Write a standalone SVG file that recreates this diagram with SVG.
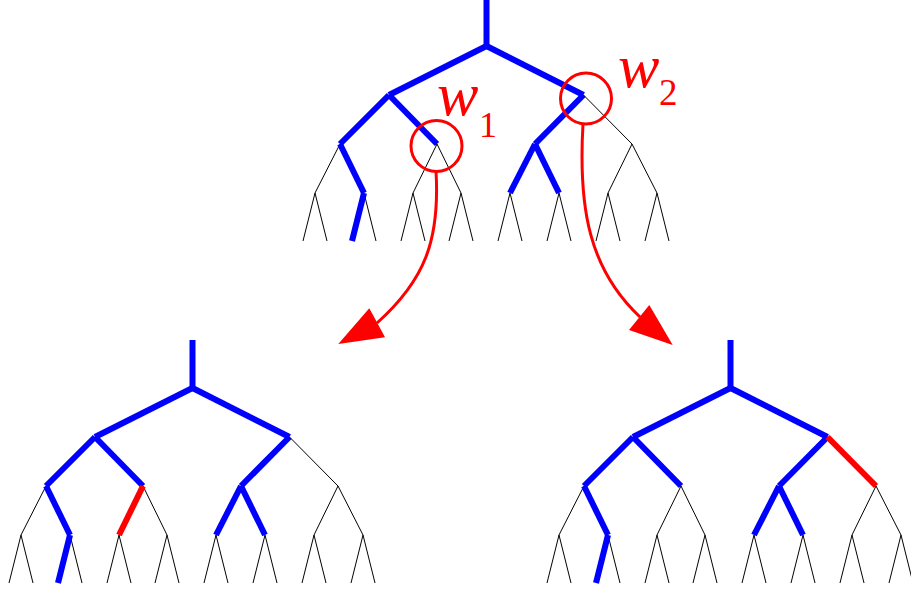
<svg xmlns="http://www.w3.org/2000/svg" xmlns:xlink="http://www.w3.org/1999/xlink" width="911" height="592" viewBox="0 0 911 592">
<style>
.thin{stroke:#000;stroke-width:1;fill:none}
.blue{stroke:#0000ff;stroke-width:6;fill:none;stroke-linecap:butt}
.redt{stroke:#ff0000;stroke-width:6;fill:none;stroke-linecap:butt}
.ring{stroke:#ff0000;stroke-width:3;fill:none}
.arc{stroke:#ff0000;stroke-width:3;fill:none}
.head{fill:#ff0000;stroke:none}
.lbl{fill:#ff0000}
</style>
<defs>
<g id="base">
<g class="thin">
<line x1="340" y1="144" x2="315" y2="193"/>
<line x1="437" y1="144" x2="461" y2="193"/>
<line x1="632" y1="144" x2="608" y2="193"/>
<line x1="632" y1="144" x2="657" y2="193"/>
<path d="M303,241 L315,193 L327,241 M376,241 L364,193 M401,241 L413,193 L425,241 M449,241 L461,193 L473,241 M498,241 L510,193 L522,241 M547,241 L559,193 L571,241 M596,241 L608,193 L620,241 M645,241 L657,193 L669,241"/>
</g>
<g class="blue">
<line x1="486.5" y1="-2" x2="486.5" y2="46"/>
<line x1="486.5" y1="46" x2="389" y2="95"/>
<line x1="486.5" y1="46" x2="583.5" y2="95"/>
<line x1="389" y1="95" x2="340" y2="144"/>
<line x1="389" y1="95" x2="437" y2="144"/>
<line x1="340" y1="144" x2="364" y2="193"/>
<line x1="364" y1="193" x2="352" y2="241"/>
<line x1="583.5" y1="95" x2="535" y2="144"/>
<line x1="535" y1="144" x2="510" y2="193"/>
<line x1="535" y1="144" x2="559" y2="193"/>
</g>
</g>
</defs>
<g id="tree-top">
<use xlink:href="#base"/>
<line class="thin" x1="583.5" y1="95" x2="632" y2="144"/>
<line class="thin" x1="437" y1="144" x2="413" y2="193"/>
</g>
<g id="tree-left" transform="translate(-294,342)">
<use xlink:href="#base"/>
<line class="thin" x1="583.5" y1="95" x2="632" y2="144"/>
<line class="redt" x1="437" y1="144" x2="413" y2="193"/>
</g>
<g id="tree-right" transform="translate(244,342)">
<use xlink:href="#base"/>
<line class="redt" x1="583.5" y1="95" x2="632" y2="144"/>
<line class="thin" x1="437" y1="144" x2="413" y2="193"/>
</g>
<g id="w1">
<circle class="ring" cx="436.5" cy="146" r="25.5"/>
<text class="lbl" font-family="Liberation Serif, serif" x="437" y="115" font-size="62" font-style="italic">w</text>
<text class="lbl" font-family="Liberation Serif, serif" x="479" y="137" font-size="36">1</text>
</g>
<g id="w2">
<circle class="ring" cx="586" cy="98.5" r="25.5"/>
<text class="lbl" font-family="Liberation Serif, serif" x="618" y="87" font-size="62" font-style="italic">w</text>
<text class="lbl" font-family="Liberation Serif, serif" x="659" y="105" font-size="37">2</text>
</g>
<g id="connectors">
<path class="arc" d="M436,171 C440,240 425,280 377,323"/>
<polygon class="head" points="338.3,344 369.3,308.3 385,337.3"/>
<path class="arc" d="M583,124 C578,210 590,270 640,317"/>
<polygon class="head" points="672.7,345 629,330 649.3,305"/>
</g>
</svg>
